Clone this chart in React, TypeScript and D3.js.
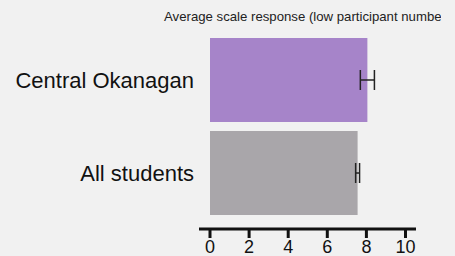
import React from "react";
import * as d3 from "d3";

const categories = ["Central Okanagan", "All students"];
const means = [8.05, 7.55];
const errors = [0.36, 0.1];
const tickValues = [0, 2, 4, 6, 8, 10];
const colors = ["#a684c9", "#a9a6aa"];
const title = "Average scale response (low participant numbers)";

export default function App() {
  const W = 455, H = 256;
  const x = d3.scaleLinear().domain([0, 10]).range([210, 405.5]);
  const y = d3.scaleBand().domain(categories).range([38, 215]).paddingInner(0.097).paddingOuter(0);
  const axisY = 229;
  return (
    <svg width={W} height={H} style={{ position: "absolute", left: 0, top: 0, background: "#f1f1f1" }}
      fontFamily="'Liberation Sans', Arial, sans-serif">
      <defs>
        <clipPath id="titleClip">
          <rect x={0} y={0} width={441} height={30} />
        </clipPath>
      </defs>
      <rect x={0} y={0} width={W} height={H} fill="#f1f1f1" />
      <text x={164} y={21} fontSize={13.2} textAnchor="start" fill="#222" clipPath="url(#titleClip)">{title}</text>
      {categories.map((c, i) => {
        const yy = y(c)!;
        const bw = y.bandwidth();
        const cy = yy + bw / 2;
        return (
          <g key={c}>
            <rect x={x(0)} y={yy} width={x(means[i]) - x(0)} height={bw} fill={colors[i]} />
            <line x1={x(means[i] - errors[i])} x2={x(means[i] + errors[i])} y1={cy} y2={cy} stroke="#222" strokeWidth={1.5} />
            <line x1={x(means[i] - errors[i])} x2={x(means[i] - errors[i])} y1={cy - 10} y2={cy + 10} stroke="#222" strokeWidth={1.5} />
            <line x1={x(means[i] + errors[i])} x2={x(means[i] + errors[i])} y1={cy - 10} y2={cy + 10} stroke="#222" strokeWidth={1.5} />
            <text x={194} y={cy + 8} fontSize={22} textAnchor="end" fill="#111">{c}</text>
          </g>
        );
      })}
      <line x1={199} x2={416} y1={axisY} y2={axisY} stroke="#111" strokeWidth={3} />
      {tickValues.map((t) => (
        <g key={t}>
          <line x1={x(t)} x2={x(t)} y1={axisY} y2={axisY + 9} stroke="#111" strokeWidth={3} />
          <text x={x(t)} y={253} fontSize={18} textAnchor="middle" fill="#111">{t}</text>
        </g>
      ))}
    </svg>
  );
}
